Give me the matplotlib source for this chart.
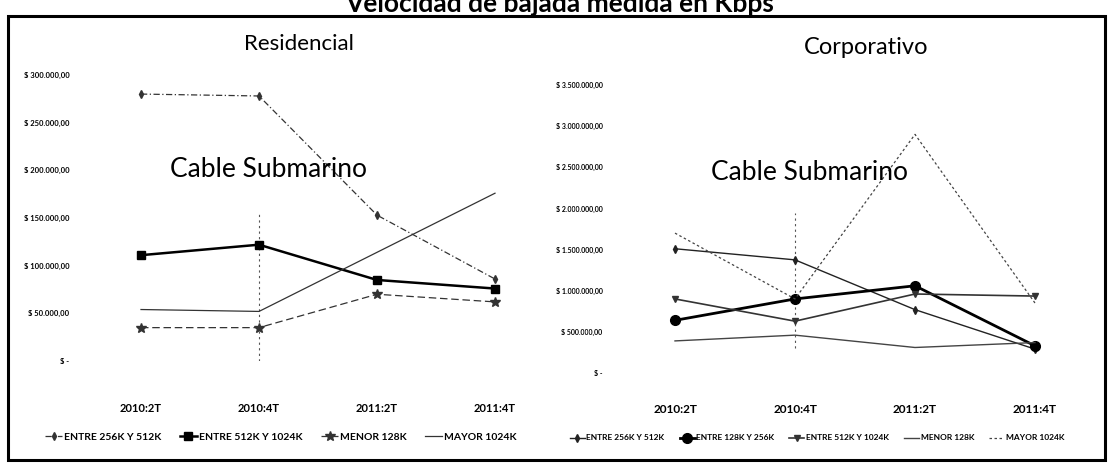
import matplotlib
matplotlib.use("Agg")
import matplotlib.pyplot as plt
import matplotlib.patches as patches
from matplotlib.ticker import FuncFormatter
import numpy as np

plt.rcParams['font.family'] = ['Lato', 'DejaVu Sans']

periods = ['2010:2T', '2010:4T', '2011:2T', '2011:4T']

# Residencial
res_labels = ['ENTRE 256K Y 512K', 'ENTRE 512K Y 1024K', 'MENOR 128K', 'MAYOR 1024K']
res_256_512 = [280000, 278000, 153000, 86000]
res_512_1024 = [111000, 122000, 85000, 76000]
res_menor_128 = [35000, 35000, 70000, 62000]
res_mayor_1024 = [54000, 52000, 114000, 176000]
res_vline = 155000

# Corporativo
corp_labels = ['ENTRE 256K Y 512K', 'ENTRE 128K Y 256K', 'ENTRE 512K Y 1024K',
               'MENOR 128K', 'MAYOR 1024K']
corp_256_512 = [1510000, 1375000, 770000, 290000]
corp_128_256 = [640000, 900000, 1060000, 330000]
corp_512_1024 = [900000, 630000, 960000, 935000]
corp_menor_128 = [390000, 460000, 310000, 370000]
corp_mayor_1024 = [1700000, 900000, 2900000, 850000]
corp_vline = (300000, 1950000)

W, H = 1111, 467
fig = plt.figure(figsize=(W / 100, H / 100), dpi=100)
fig.patch.set_facecolor('white')


def px_axes(x0, x1, y_top, y_bot):
    return fig.add_axes([x0 / W, 1 - y_bot / H, (x1 - x0) / W, (y_bot - y_top) / H])


def money(v, pos):
    if v == 0:
        return '$ -'
    s = f"{v:,.2f}".replace(',', 'X').replace('.', ',').replace('X', '.')
    return '$ ' + s


def style_axes(ax, ymax, step, ysize, xsize, xpad):
    ax.set_xlim(-0.5, 3.5)
    ax.set_ylim(0, ymax)
    ax.set_yticks(np.arange(0, ymax + 1, step))
    ax.yaxis.set_major_formatter(FuncFormatter(money))
    ax.set_xticks(range(len(periods)))
    ax.set_xticklabels(periods, fontweight='bold', fontsize=xsize)
    ax.tick_params(axis='y', length=0, pad=9, labelsize=ysize)
    for t in ax.get_yticklabels():
        t.set_fontweight('bold')
    ax.tick_params(axis='x', length=0, pad=xpad)
    for s in ax.spines.values():
        s.set_visible(False)
    ax.set_facecolor('none')


x = np.arange(len(periods))

# ---- Residencial ----
ax1 = px_axes(82, 554, 75, 361)
ax1.vlines(1, 0, res_vline, colors='#555555', linestyles=(0, (2, 3)), lw=0.8)
ax1.plot(x, res_256_512, color='#333333', lw=0.9, ls=(0, (5, 2, 1, 2)), marker='d', ms=4,
         label=res_labels[0])
ax1.plot(x, res_512_1024, color='black', lw=1.8, marker='s', ms=6, label=res_labels[1])
ax1.plot(x, res_menor_128, color='#333333', lw=0.9, ls=(0, (6, 3)), marker='*', ms=7,
         label=res_labels[2])
ax1.plot(x, res_mayor_1024, color='#333333', lw=0.9, label=res_labels[3])
style_axes(ax1, 300000, 50000, 5.5, 8, 30)
ax1.legend(loc='center', bbox_to_anchor=(281 / W, 1 - 437 / H), bbox_transform=fig.transFigure,
           ncol=4, frameon=False, handlelength=1.6, handletextpad=0.2, columnspacing=1.8,
           prop={'weight': 'bold', 'size': 7.5})

# ---- Corporativo ----
ax2 = px_axes(615, 1095, 85, 373)
ax2.vlines(1, corp_vline[0], corp_vline[1], colors='#555555', linestyles=(0, (2, 3)), lw=0.8)
ax2.plot(x, corp_256_512, color='#222222', lw=1.0, marker='d', ms=4, label=corp_labels[0])
ax2.plot(x, corp_128_256, color='black', lw=2.0, marker='o', ms=7, label=corp_labels[1])
ax2.plot(x, corp_512_1024, color='#333333', lw=1.2, marker='v', ms=4, label=corp_labels[2])
ax2.plot(x, corp_menor_128, color='#444444', lw=1.0, label=corp_labels[3])
ax2.plot(x, corp_mayor_1024, color='#444444', lw=0.9, ls=(0, (2, 2)), label=corp_labels[4])
style_axes(ax2, 3500000, 500000, 5, 8.5, 22)
ax2.legend(loc='center', bbox_to_anchor=(817 / W, 1 - 438 / H), bbox_transform=fig.transFigure,
           ncol=5, frameon=False, handlelength=1.8, handletextpad=0.2, columnspacing=1.8,
           prop={'weight': 'bold', 'size': 6})

# ---- textos ----
fig.text(560 / W, 1 - 12 / H, 'Velocidad de bajada medida en Kbps', ha='center', va='baseline',
         fontsize=19, fontweight='bold')
fig.text(299 / W, 1 - 44 / H, 'Residencial', ha='center', va='center', fontsize=16)
fig.text(866 / W, 1 - 47 / H, 'Corporativo', ha='center', va='center', fontsize=17)
fig.text(269 / W, 1 - 169 / H, 'Cable Submarino', ha='center', va='center', fontsize=19)
fig.text(809 / W, 1 - 173 / H, 'Cable Submarino', ha='center', va='center', fontsize=19)

# marco exterior
fig.add_artist(patches.Rectangle((8 / W, 1 - 460 / H), (1105 - 8) / W, (460 - 16) / H,
                                 transform=fig.transFigure, fill=False, edgecolor='black',
                                 lw=2.2))

fig.savefig('out.png', dpi=100)
